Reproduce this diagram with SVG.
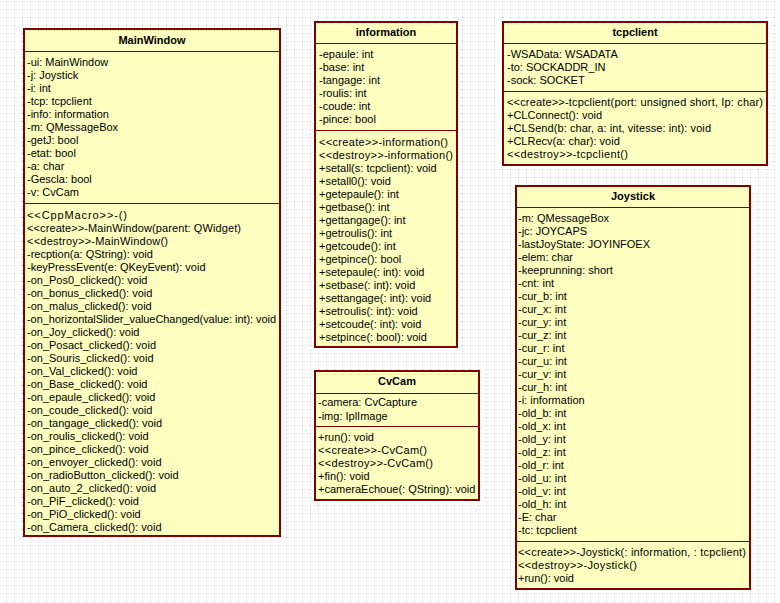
<svg xmlns="http://www.w3.org/2000/svg" width="780" height="603" viewBox="0 0 780 603">
<defs>
<pattern id="grid" x="0" y="0" width="8" height="8" patternUnits="userSpaceOnUse">
<rect x="6" y="1" width="1" height="1" fill="#a8a8a8"/>
</pattern>
</defs>
<style>
.box{fill:#ffffc0;stroke:#800000;stroke-width:2}
.sep{stroke:#800000;stroke-width:1}
text{font-family:"Liberation Sans",Arial,sans-serif;font-size:11px;fill:#000}
.title{font-weight:bold;text-anchor:middle}
</style>
<rect width="780" height="603" fill="#ffffff"/>
<rect width="780" height="603" fill="url(#grid)"/>
<g id="connectors"></g>

<g id="MainWindow">
<rect class="box" x="24" y="29" width="256" height="507"/>
<line class="sep" x1="24" y1="51.5" x2="280" y2="51.5"/>
<line class="sep" x1="24" y1="203.5" x2="280" y2="203.5"/>
<text class="title" x="152" y="44">MainWindow</text>
<text x="27" y="66">-ui: MainWindow</text>
<text x="27" y="79">-j: Joystick</text>
<text x="27" y="92">-i: int</text>
<text x="27" y="105">-tcp: tcpclient</text>
<text x="27" y="118">-info: information</text>
<text x="27" y="131">-m: QMessageBox</text>
<text x="27" y="144">-getJ: bool</text>
<text x="27" y="157">-etat: bool</text>
<text x="27" y="170">-a: char</text>
<text x="27" y="183">-Gescla: bool</text>
<text x="27" y="196">-v: CvCam</text>
<text x="27" y="219" textLength="100" lengthAdjust="spacing">&lt;&lt;CppMacro&gt;&gt;-()</text>
<text x="27" y="232" textLength="214" lengthAdjust="spacing">&lt;&lt;create&gt;&gt;-MainWindow(parent: QWidget)</text>
<text x="27" y="245" textLength="141" lengthAdjust="spacing">&lt;&lt;destroy&gt;&gt;-MainWindow()</text>
<text x="27" y="258">-recption(a: QString): void</text>
<text x="27" y="271">-keyPressEvent(e: QKeyEvent): void</text>
<text x="27" y="284">-on_Pos0_clicked(): void</text>
<text x="27" y="297">-on_bonus_clicked(): void</text>
<text x="27" y="310">-on_malus_clicked(): void</text>
<text x="27" y="323" textLength="249" lengthAdjust="spacing">-on_horizontalSlider_valueChanged(value: int): void</text>
<text x="27" y="336">-on_Joy_clicked(): void</text>
<text x="27" y="349">-on_Posact_clicked(): void</text>
<text x="27" y="362">-on_Souris_clicked(): void</text>
<text x="27" y="375">-on_Val_clicked(): void</text>
<text x="27" y="388">-on_Base_clicked(): void</text>
<text x="27" y="401">-on_epaule_clicked(): void</text>
<text x="27" y="414">-on_coude_clicked(): void</text>
<text x="27" y="427">-on_tangage_clicked(): void</text>
<text x="27" y="440">-on_roulis_clicked(): void</text>
<text x="27" y="453">-on_pince_clicked(): void</text>
<text x="27" y="466">-on_envoyer_clicked(): void</text>
<text x="27" y="479">-on_radioButton_clicked(): void</text>
<text x="27" y="492">-on_auto_2_clicked(): void</text>
<text x="27" y="505">-on_PiF_clicked(): void</text>
<text x="27" y="518">-on_PiO_clicked(): void</text>
<text x="27" y="531">-on_Camera_clicked(): void</text>
</g>

<g id="information">
<rect class="box" x="315" y="22" width="142" height="325"/>
<line class="sep" x1="315" y1="43.5" x2="457" y2="43.5"/>
<line class="sep" x1="315" y1="130.5" x2="457" y2="130.5"/>
<text class="title" x="386" y="36">information</text>
<text x="319" y="58">-epaule: int</text>
<text x="319" y="71">-base: int</text>
<text x="319" y="84">-tangage: int</text>
<text x="319" y="97">-roulis: int</text>
<text x="319" y="110">-coude: int</text>
<text x="319" y="123">-pince: bool</text>
<text x="319" y="146" textLength="129" lengthAdjust="spacing">&lt;&lt;create&gt;&gt;-information()</text>
<text x="319" y="159" textLength="134" lengthAdjust="spacing">&lt;&lt;destroy&gt;&gt;-information()</text>
<text x="319" y="172">+setall(s: tcpclient): void</text>
<text x="319" y="185">+setall0(): void</text>
<text x="319" y="198">+getepaule(): int</text>
<text x="319" y="211">+getbase(): int</text>
<text x="319" y="224">+gettangage(): int</text>
<text x="319" y="237">+getroulis(): int</text>
<text x="319" y="250">+getcoude(): int</text>
<text x="319" y="263">+getpince(): bool</text>
<text x="319" y="276">+setepaule(: int): void</text>
<text x="319" y="289">+setbase(: int): void</text>
<text x="319" y="302">+settangage(: int): void</text>
<text x="319" y="315">+setroulis(: int): void</text>
<text x="319" y="328">+setcoude(: int): void</text>
<text x="319" y="341">+setpince(: bool): void</text>
</g>

<g id="tcpclient">
<rect class="box" x="503" y="22" width="264" height="143"/>
<line class="sep" x1="503" y1="43.5" x2="767" y2="43.5"/>
<line class="sep" x1="503" y1="91.5" x2="767" y2="91.5"/>
<text class="title" x="635" y="36">tcpclient</text>
<text x="507" y="58">-WSAData: WSADATA</text>
<text x="507" y="71">-to: SOCKADDR_IN</text>
<text x="507" y="84">-sock: SOCKET</text>
<text x="507" y="106" textLength="256" lengthAdjust="spacing">&lt;&lt;create&gt;&gt;-tcpclient(port: unsigned short, Ip: char)</text>
<text x="507" y="119">+CLConnect(): void</text>
<text x="507" y="132" textLength="204" lengthAdjust="spacing">+CLSend(b: char, a: int, vitesse: int): void</text>
<text x="507" y="145">+CLRecv(a: char): void</text>
<text x="507" y="158" textLength="121" lengthAdjust="spacing">&lt;&lt;destroy&gt;&gt;-tcpclient()</text>
</g>

<g id="Joystick">
<rect class="box" x="516" y="186" width="234" height="403"/>
<line class="sep" x1="516" y1="207.5" x2="750" y2="207.5"/>
<line class="sep" x1="516" y1="541.5" x2="750" y2="541.5"/>
<text class="title" x="633" y="200">Joystick</text>
<text x="518" y="222">-m: QMessageBox</text>
<text x="518" y="235">-jc: JOYCAPS</text>
<text x="518" y="248">-lastJoyState: JOYINFOEX</text>
<text x="518" y="261">-elem: char</text>
<text x="518" y="274">-keeprunning: short</text>
<text x="518" y="287">-cnt: int</text>
<text x="518" y="300">-cur_b: int</text>
<text x="518" y="313">-cur_x: int</text>
<text x="518" y="326">-cur_y: int</text>
<text x="518" y="339">-cur_z: int</text>
<text x="518" y="352">-cur_r: int</text>
<text x="518" y="365">-cur_u: int</text>
<text x="518" y="378">-cur_v: int</text>
<text x="518" y="391">-cur_h: int</text>
<text x="518" y="404">-i: information</text>
<text x="518" y="417">-old_b: int</text>
<text x="518" y="430">-old_x: int</text>
<text x="518" y="443">-old_y: int</text>
<text x="518" y="456">-old_z: int</text>
<text x="518" y="469">-old_r: int</text>
<text x="518" y="482">-old_u: int</text>
<text x="518" y="495">-old_v: int</text>
<text x="518" y="508">-old_h: int</text>
<text x="518" y="521">-E: char</text>
<text x="518" y="534">-tc: tcpclient</text>
<text x="518" y="556" textLength="228" lengthAdjust="spacing">&lt;&lt;create&gt;&gt;-Joystick(: information, : tcpclient)</text>
<text x="518" y="569" textLength="119" lengthAdjust="spacing">&lt;&lt;destroy&gt;&gt;-Joystick()</text>
<text x="518" y="582">+run(): void</text>
</g>

<g id="CvCam">
<rect class="box" x="315" y="371" width="164" height="129"/>
<line class="sep" x1="315" y1="393.5" x2="479" y2="393.5"/>
<line class="sep" x1="315" y1="426.5" x2="479" y2="426.5"/>
<text class="title" x="397" y="385">CvCam</text>
<text x="318" y="406">-camera: CvCapture</text>
<text x="318" y="420">-img: IplImage</text>
<text x="318" y="441">+run(): void</text>
<text x="318" y="454" textLength="109" lengthAdjust="spacing">&lt;&lt;create&gt;&gt;-CvCam()</text>
<text x="318" y="467" textLength="115" lengthAdjust="spacing">&lt;&lt;destroy&gt;&gt;-CvCam()</text>
<text x="318" y="480">+fin(): void</text>
<text x="318" y="493">+cameraEchoue(: QString): void</text>
</g>
</svg>
